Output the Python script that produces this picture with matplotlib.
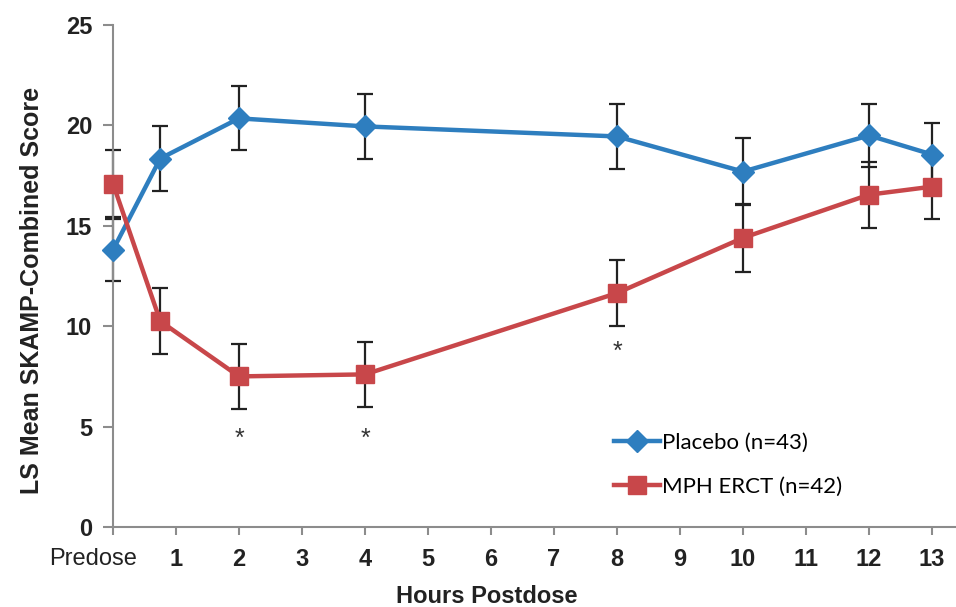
import matplotlib
matplotlib.use("Agg")
import matplotlib.pyplot as plt
from matplotlib.transforms import ScaledTranslation

# Data
hours = [0, 0.75, 2, 4, 8, 10, 12, 13]
placebo = [13.8, 18.35, 20.35, 19.95, 19.45, 17.7, 19.5, 18.55]
placebo_err = [1.55, 1.6, 1.6, 1.6, 1.6, 1.65, 1.55, 1.55]
mph = [17.1, 10.25, 7.5, 7.6, 11.65, 14.4, 16.55, 16.95]
mph_err = [1.65, 1.65, 1.6, 1.6, 1.65, 1.7, 1.65, 1.6]
sig_hours = [2, 4, 8]
sig_y = [4.4, 4.4, 8.7]
xticks = list(range(14))
xticklabels = ["Predose"] + [str(i) for i in range(1, 14)]
yticks = [0, 5, 10, 15, 20, 25]

blue = "#2E7EBF"
red = "#C8474A"
axis_gray = "#8C8C8C"

plt.rcParams['font.family'] = ['Liberation Sans', 'DejaVu Sans']

fig = plt.figure(figsize=(9.56, 6.07), dpi=100)
ax = fig.add_axes([113/956, 1-527/607, (956-113)/956, (527-25)/607])

for vals, errs in ((placebo, placebo_err), (mph, mph_err)):
    eb = ax.errorbar(hours, vals, yerr=errs, fmt='none', ecolor='#222222',
                     elinewidth=1.6, capsize=6, capthick=1.6, zorder=2)
    for art in eb.lines[1] + eb.lines[2]:
        art.set_clip_on(False)
ax.plot(hours, placebo, color=blue, lw=3.2, marker='D', markersize=11,
        label='Placebo (n=43)', zorder=3, clip_on=False)
ax.plot(hours, mph, color=red, lw=3.2, marker='s', markersize=13,
        label='MPH ERCT (n=42)', zorder=4, clip_on=False)

for h, y in zip(sig_hours, sig_y):
    ax.text(h, y, '*', ha='center', va='center', fontsize=18, color='#333333')

ax.set_xlim(0, 13.38)
ax.set_ylim(0, 25)
ax.set_xticks(xticks)
ax.set_xticklabels(xticklabels)
ax.set_yticks(yticks)

for s in ['top', 'right']:
    ax.spines[s].set_visible(False)
for s in ['left', 'bottom']:
    ax.spines[s].set_color(axis_gray)
    ax.spines[s].set_linewidth(1.5)
ax.tick_params(axis='both', colors=axis_gray, width=1.5)
ax.tick_params(axis='x', length=6, labelcolor='#222222', labelsize=17, pad=9)
ax.tick_params(axis='y', length=7, labelcolor='#222222', labelsize=17, pad=8)
for lab in ax.get_yticklabels():
    lab.set_fontweight('bold')
for i, lab in enumerate(ax.get_xticklabels()):
    if i == 0:
        lab.set_fontweight('normal')
        lab.set_transform(lab.get_transform() + ScaledTranslation(-0.2, 0, fig.dpi_scale_trans))
    else:
        lab.set_fontweight('bold')

ax.set_xlabel('Hours Postdose', fontsize=17, fontweight='bold', color='#222222', labelpad=8)
ax.xaxis.set_label_coords((487-113)/843, -0.115)
ax.set_ylabel('LS Mean SKAMP-Combined Score', fontsize=18, fontweight='bold', color='#222222')
ax.yaxis.set_label_coords(-(113-44)/843, (527-290)/502)

leg = ax.legend(loc='lower left', bbox_to_anchor=(0.57, 0.02), frameon=False,
                handlelength=2.1, handletextpad=0.1, labelspacing=1.1,
                prop={'family': ['Lato', 'DejaVu Sans'], 'size': 16})

fig.savefig('out.png', dpi=100)
